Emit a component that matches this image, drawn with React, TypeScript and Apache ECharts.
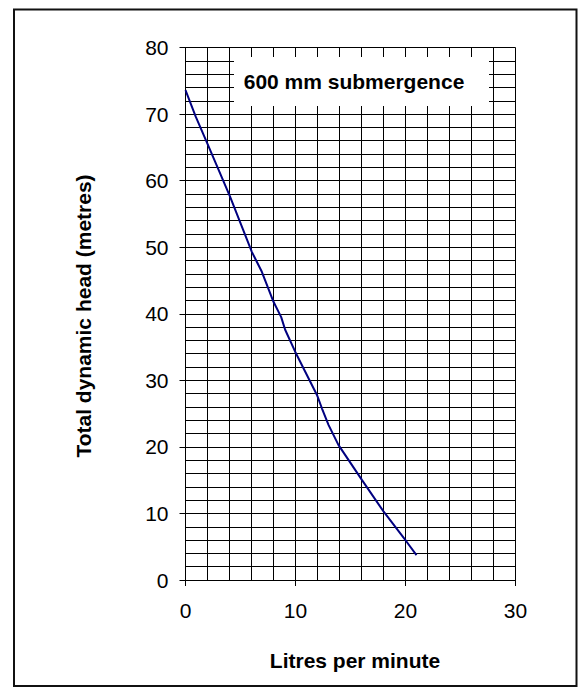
import React, { useEffect, useRef } from "react";
import * as echarts from "echarts";

const flowLpm = [0, 0.93, 1.98, 4.05, 6.03, 6.94, 8.0, 8.7, 9.06, 9.97, 11.95, 12.4, 13.0, 13.9, 16.05, 18.0, 20.1, 21.0];
const headM = [73.6, 69.6, 65.6, 57.6, 49.3, 46.3, 41.8, 39.5, 37.6, 34.3, 27.8, 25.8, 23.3, 20.3, 15.0, 10.3, 5.75, 3.75];
const xTicks = [0, 10, 20, 30];
const yTicks = [0, 10, 20, 30, 40, 50, 60, 70, 80];
const chartTitle = "600 mm submergence";
const xName = "Litres per minute";
const yName = "Total dynamic head (metres)";

const FONT = "'Liberation Sans', Arial, Helvetica, sans-serif";

export default function App() {
  const ref = useRef<HTMLDivElement>(null);
  useEffect(() => {
    if (!ref.current) return;
    const chart = echarts.init(ref.current, null, { renderer: "svg" });
    const data = flowLpm.map((x, i) => [x, headM[i]]);
    chart.setOption({
      animation: false,
      backgroundColor: "#ffffff",
      grid: { left: 185.5, right: 62.5, top: 47.5, bottom: 108, containLabel: false },
      xAxis: {
        type: "value",
        min: xTicks[0],
        max: xTicks[xTicks.length - 1],
        interval: 10,
        axisLine: { show: true, onZero: false, lineStyle: { color: "#000", width: 1 } },
        axisTick: { show: true, length: 6, lineStyle: { color: "#000" } },
        axisLabel: { margin: 20, fontSize: 21, color: "#000", fontFamily: FONT },
        splitLine: { show: true, lineStyle: { color: "#000", width: 1 } },
        minorTick: { show: false, splitNumber: 5 },
        minorSplitLine: { show: true, lineStyle: { color: "#000", width: 1 } },
      },
      yAxis: {
        type: "value",
        min: yTicks[0],
        max: yTicks[yTicks.length - 1],
        interval: 10,
        axisLine: { show: true, onZero: false, lineStyle: { color: "#000", width: 1 } },
        axisTick: { show: true, length: 6, lineStyle: { color: "#000" } },
        axisLabel: { margin: 17, fontSize: 21, color: "#000", fontFamily: FONT },
        splitLine: { show: true, lineStyle: { color: "#000", width: 1 } },
        minorTick: { show: false, splitNumber: 5 },
        minorSplitLine: { show: true, lineStyle: { color: "#000", width: 1 } },
      },
      series: [
        {
          type: "line",
          data,
          showSymbol: false,
          symbol: "none",
          lineStyle: { color: "#000080", width: 2 },
          z: 5,
        },
      ],
      graphic: [
        {
          type: "rect",
          z: 100,
          shape: { x: 14, y: 9.5, width: 562.5, height: 676.5 },
          style: { fill: "none", stroke: "#111", lineWidth: 2 },
        },
        {
          type: "rect",
          z: 100,
          shape: { x: 234, y: 57, width: 255, height: 49 },
          style: { fill: "#ffffff", stroke: "none" },
        },
        {
          type: "text",
          z: 101,
          x: 354,
          y: 81,
          style: {
            text: chartTitle,
            fill: "#000",
            font: `bold 21px ${FONT}`,
            textAlign: "center",
            textVerticalAlign: "middle",
          },
        },
        {
          type: "text",
          z: 101,
          x: 355,
          y: 660,
          style: {
            text: xName,
            fill: "#000",
            font: `bold 21px ${FONT}`,
            textAlign: "center",
            textVerticalAlign: "middle",
          },
        },
        {
          type: "text",
          z: 101,
          x: 83,
          y: 316,
          rotation: Math.PI / 2,
          style: {
            text: yName,
            fill: "#000",
            font: `bold 21px ${FONT}`,
            textAlign: "center",
            textVerticalAlign: "middle",
          },
        },
      ],
    });
    return () => chart.dispose();
  }, []);
  return (
    <div
      ref={ref}
      style={{ position: "absolute", left: 0, top: 0, width: 578, height: 688 }}
    />
  );
}
